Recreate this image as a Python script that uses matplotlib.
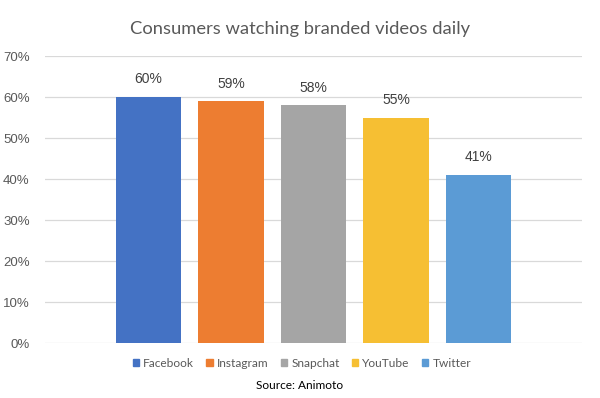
import matplotlib
matplotlib.use("Agg")
import matplotlib.pyplot as plt
from matplotlib.patches import Patch

platforms = ["Facebook", "Instagram", "Snapchat", "YouTube", "Twitter"]
values = [60, 59, 58, 55, 41]
colors = ["#4472C4", "#ED7D31", "#A5A5A5", "#F6BF33", "#5B9BD5"]
yticks = [0, 10, 20, 30, 40, 50, 60, 70]
title = "Consumers watching branded videos daily"
source = "Source: Animoto"

fig = plt.figure(figsize=(6, 3.98), dpi=100)
ax = fig.add_axes([0.075, 0.138, 0.895, 0.721])

x = list(range(len(platforms)))
ax.bar(x, values, width=0.79, color=colors, zorder=3)
for xi, v in zip(x, values):
    ax.text(xi, v + 2.6, f"{v}%", ha="center", va="bottom",
            fontsize=10, color="#404040", family="Liberation Sans")

ax.set_xlim(-1.255, 5.255)
ax.set_ylim(0, 70)
ax.set_yticks(yticks)
ax.set_yticklabels([f"{t}%" for t in yticks], family="Liberation Sans",
                   fontsize=9.5, color="#595959")
ax.set_xticks([])
ax.grid(axis="y", color="#D9D9D9", linewidth=0.9, zorder=0)
for s in ax.spines.values():
    s.set_visible(False)
ax.tick_params(axis="y", length=0, pad=11)

fig.text(0.5, 0.928, title, ha="center", va="center", fontsize=13.2,
         color="#595959", family="Lato")

handles = [Patch(color=c, label=p) for p, c in zip(platforms, colors)]
fig.legend(handles=handles, loc="center", bbox_to_anchor=(0.503, 0.087),
           ncol=5, frameon=False, handlelength=0.55,
           handleheight=0.6, handletextpad=0.35, columnspacing=1.0,
           prop={"family": "Lato", "size": 8.6})
for t in fig.legends[0].get_texts():
    t.set_color("#595959")

fig.text(0.5, 0.031, source, ha="center", va="center", fontsize=8.6,
         color="#000000", family="Lato")

fig.savefig("out.png", dpi=100)
